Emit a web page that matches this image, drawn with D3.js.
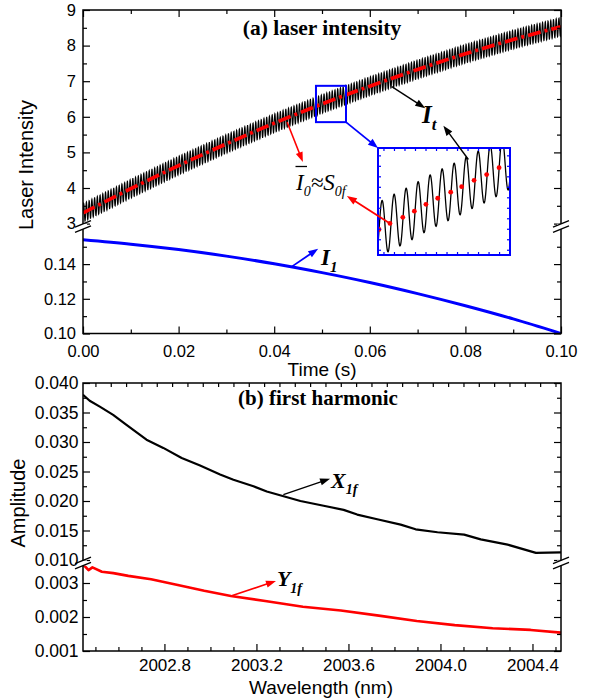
<!DOCTYPE html>
<html>
<head>
<meta charset="utf-8">
<script src="https://cdn.jsdelivr.net/npm/d3@7"></script>
<style>
  body { margin: 0; background: #fff; }
  svg { display: block; }
</style>
</head>
<body>
<svg id="chart" width="593" height="700"></svg>
<script>
// ---------------- data: panel (a) laser intensity ----------------
const timeMajorTicks = [0, 0.02, 0.04, 0.06, 0.08, 0.10];
const timeMinorTicks = [0.01, 0.03, 0.05, 0.07, 0.09];
const intensityMajorTicks = [3, 4, 5, 6, 7, 8, 9];
const intensityMinorTicks = [3.5, 4.5, 5.5, 6.5, 7.5, 8.5];
const i1MajorTicks = [0.10, 0.12, 0.14];
const i1MinorTicks = [0.11, 0.13, 0.15];

// sampled time base (s)
const sampleTime = [0, 0.01, 0.02, 0.03, 0.04, 0.05, 0.06, 0.07, 0.08, 0.09, 0.10];
// mean laser intensity  I0 (= S0f)
const meanIntensity = [3.30, 3.98, 4.63, 5.24, 5.82, 6.36, 6.86, 7.33, 7.77, 8.17, 8.53];
// modulation amplitude I1
const i1Amplitude = [0.1540, 0.1515, 0.1484, 0.1446, 0.1402, 0.1351, 0.1294, 0.1230, 0.1160, 0.1084, 0.1000];
// sinusoidal wavelength modulation of the transmitted intensity It
const modFrequency = 1750;     // Hz
const modDepth = 0.26;         // intensity units

// magnified window
const zoomWindowTime = [0.04874, 0.05502];
const zoomWindowIntensity = [5.85, 6.87];
const zoomSampleTime = [0.04879, 0.04931, 0.04992, 0.05047, 0.05102, 0.05158, 0.05220, 0.05272, 0.05331, 0.05391, 0.05450];
const zoomSampleMean = [6.093, 6.151, 6.209, 6.268, 6.333, 6.391, 6.449, 6.501, 6.562, 6.617, 6.682];

// ---------------- data: panel (b) first harmonic ----------------
const wlMajorTicks = [2002.8, 2003.2, 2003.6, 2004.0, 2004.4];
const wlMinorTicks = [2002.5, 2002.6, 2002.7, 2002.9, 2003.0, 2003.1, 2003.3, 2003.4, 2003.5,
                      2003.7, 2003.8, 2003.9, 2004.1, 2004.2, 2004.3, 2004.5];
const ampMajorTicks = [0.010, 0.015, 0.020, 0.025, 0.030, 0.035, 0.040];
const ampMinorTicks = [0.0125, 0.0175, 0.0225, 0.0275, 0.0325, 0.0375];
const ampLowMajorTicks = [0.001, 0.002, 0.003];
const ampLowMinorTicks = [0.0015, 0.0025];

const x1fWavelength = [2002.446, 2002.475, 2002.519, 2002.577, 2002.635, 2002.722, 2002.795, 2002.875,
  2002.955, 2003.042, 2003.100, 2003.187, 2003.245, 2003.318, 2003.391, 2003.492, 2003.579, 2003.638,
  2003.725, 2003.827, 2003.892, 2003.987, 2004.103, 2004.175, 2004.292, 2004.415, 2004.524];
const x1fAmplitude = [0.0380, 0.0370, 0.0360, 0.0346, 0.0329, 0.0304, 0.0290, 0.0273,
  0.0260, 0.0245, 0.0236, 0.0225, 0.0216, 0.0208, 0.0200, 0.0192, 0.0185, 0.0177,
  0.0169, 0.0160, 0.0152, 0.0147, 0.0143, 0.0135, 0.0126, 0.0112, 0.0113];

const y1fWavelength = [2002.449, 2002.470, 2002.487, 2002.528, 2002.578, 2002.643, 2002.742, 2002.858,
  2002.973, 2003.089, 2003.238, 2003.402, 2003.567, 2003.732, 2003.897, 2004.062, 2004.227, 2004.392, 2004.524];
const y1fAmplitude = [0.00353, 0.00338, 0.00346, 0.00333, 0.00329, 0.00321, 0.00311, 0.00294,
  0.00277, 0.00262, 0.00247, 0.00230, 0.00219, 0.00204, 0.00188, 0.00176, 0.00167, 0.00162, 0.00154];

// ---------------- drawing ----------------
const SANS = "'Liberation Sans', Arial, sans-serif";
const SERIF = "'Liberation Serif', 'Times New Roman', serif";
const svg = d3.select("#chart");
const defs = svg.append("defs");

// panel (a) geometry and scales
const pa = { l: 83, r: 561, t: 10, b: 333.5, brk: 226.5 };
const xTime = d3.scaleLinear().domain([0, 0.1]).range([pa.l, pa.r]);
const yHi = d3.scaleLinear().domain([3, 9]).range([223.6, pa.t]);
const yLo = d3.scaleLinear().domain([0.10, 0.16]).range([pa.b, 229.4]);

// panel (b) geometry and scales
const pb = { l: 83, r: 561, t: 383, b: 651, brk: 563 };
const xWl = d3.scaleLinear().domain([2002.446, 2004.524]).range([pb.l, pb.r]);
const yAmp = d3.scaleLinear().domain([0.010, 0.040]).range([560, pb.t]);
const yAmpLow = d3.scaleLinear().domain([0.001, 0.0035]).range([pb.b, 566]);

function clip(id, x0, y0, x1, y1) {
  defs.append("clipPath").attr("id", id).append("rect")
    .attr("x", x0).attr("y", y0).attr("width", x1 - x0).attr("height", y1 - y0);
  return `url(#${id})`;
}
const clipAHi = clip("cah", pa.l, pa.t, pa.r, pa.brk);
const clipALo = clip("cal", pa.l, pa.brk, pa.r, pa.b);
const clipBHi = clip("cbh", pb.l, pb.t, pb.r, pb.brk);
const clipBLo = clip("cbl", pb.l, pb.brk, pb.r, pb.b);

function arrow(p0, p1, color, width, head = 10, half = 3.6) {
  const dx = p1[0] - p0[0], dy = p1[1] - p0[1];
  const len = Math.hypot(dx, dy), ux = dx / len, uy = dy / len;
  const bx = p1[0] - ux * head, by = p1[1] - uy * head;
  svg.append("line").attr("x1", p0[0]).attr("y1", p0[1]).attr("x2", bx + ux).attr("y2", by + uy)
    .attr("stroke", color).attr("stroke-width", width);
  svg.append("path")
    .attr("d", `M${p1[0]},${p1[1]}L${bx - uy * half},${by + ux * half}L${bx + uy * half},${by - ux * half}Z`)
    .attr("fill", color);
}

function drawAxis(gen, scale, values, size, fmt, transform, fontSize, padding, color = "#000") {
  const a = gen(scale).tickValues(values).tickSize(-size).tickPadding(padding)
    .tickFormat(fmt ? d3.format(fmt) : () => "");
  const g = svg.append("g").attr("transform", transform).call(a);
  g.select(".domain").remove();
  g.selectAll("line").attr("stroke", color).attr("stroke-width", 1.2);
  g.selectAll("text").attr("font-family", SANS).attr("font-size", fontSize).attr("fill", "#000");
  return g;
}

function breakMark(x, y) {
  svg.append("rect").attr("x", x - 4).attr("y", y - 2.6).attr("width", 8).attr("height", 5.2).attr("fill", "#fff");
  [-2.6, 2.6].forEach(o => {
    svg.append("line").attr("x1", x - 8).attr("y1", y + o + 3.3).attr("x2", x + 8).attr("y2", y + o - 3.3)
      .attr("stroke", "#000").attr("stroke-width", 1.3);
  });
}

// ---- panel (a) curves ----
const meanAt = d3.scaleLinear().domain(sampleTime).range(meanIntensity);
const nBand = 3600;
const bandData = d3.range(nBand + 1).map(i => {
  const t = 0.1 * i / nBand;
  return [t, meanAt(t) + modDepth * Math.sin(2 * Math.PI * modFrequency * t)];
});
svg.append("path").attr("clip-path", clipAHi)
  .attr("d", d3.line().x(d => xTime(d[0])).y(d => yHi(d[1]))(bandData))
  .attr("fill", "none").attr("stroke", "#000").attr("stroke-width", 1.1);

svg.append("path").attr("clip-path", clipAHi)
  .attr("d", d3.line().curve(d3.curveMonotoneX).x((d, i) => xTime(sampleTime[i])).y(d => yHi(d))(meanIntensity))
  .attr("fill", "none").attr("stroke", "#ff0000").attr("stroke-width", 3.6)
  .attr("stroke-dasharray", "13,4,3,4");

svg.append("path").attr("clip-path", clipALo)
  .attr("d", d3.line().curve(d3.curveMonotoneX).x((d, i) => xTime(sampleTime[i])).y(d => yLo(d))(i1Amplitude))
  .attr("fill", "none").attr("stroke", "#0000ff").attr("stroke-width", 3);

// magnified window marker
svg.append("rect")
  .attr("x", xTime(zoomWindowTime[0])).attr("y", yHi(zoomWindowIntensity[1]))
  .attr("width", xTime(zoomWindowTime[1]) - xTime(zoomWindowTime[0]))
  .attr("height", yHi(zoomWindowIntensity[0]) - yHi(zoomWindowIntensity[1]))
  .attr("fill", "none").attr("stroke", "#0000ff").attr("stroke-width", 2);

// inset
const ins = { l: 378, r: 510, t: 148, b: 255 };
const xIn = d3.scaleLinear().domain(zoomWindowTime).range([ins.l, ins.r]);
const yIn = d3.scaleLinear().domain(zoomWindowIntensity).range([ins.b, ins.t]);
arrow([xTime(zoomWindowTime[1]), yHi(zoomWindowIntensity[0])], [ins.l, ins.t], "#0000ff", 1.8, 10, 3.8);

svg.append("rect").attr("x", ins.l).attr("y", ins.t).attr("width", ins.r - ins.l).attr("height", ins.b - ins.t)
  .attr("fill", "#fff");
const clipIn = clip("cin", ins.l, ins.t, ins.r, ins.b);
const zoomMeanAt = d3.scaleLinear().domain(zoomSampleTime).range(zoomSampleMean);
const nIn = 500;
const insetWave = d3.range(nIn + 1).map(i => {
  const t = zoomWindowTime[0] + (zoomWindowTime[1] - zoomWindowTime[0]) * i / nIn;
  return [t, zoomMeanAt(t) + modDepth * Math.sin(2 * Math.PI * modFrequency * (t - zoomSampleTime[0]))];
});
svg.append("path").attr("clip-path", clipIn)
  .attr("d", d3.line().x(d => xIn(d[0])).y(d => yIn(d[1]))(insetWave))
  .attr("fill", "none").attr("stroke", "#000").attr("stroke-width", 1.3);
svg.append("g").attr("clip-path", clipIn).selectAll("circle").data(zoomSampleMean).join("circle")
  .attr("cx", (d, i) => xIn(zoomSampleTime[i])).attr("cy", d => yIn(d)).attr("r", 2.4).attr("fill", "#ff0000");

const inXTicks = [0.0490, 0.0495, 0.0500, 0.0505, 0.0510, 0.0515, 0.0520, 0.0525, 0.0530, 0.0535, 0.0540, 0.0545, 0.0550];
const inYTicks = [5.9, 6.0, 6.1, 6.2, 6.3, 6.4, 6.5, 6.6, 6.7, 6.8];
drawAxis(d3.axisBottom, xIn, inXTicks, 3, null, `translate(0,${ins.b})`, 0, 0, "#0000ff");
drawAxis(d3.axisTop, xIn, inXTicks, 3, null, `translate(0,${ins.t})`, 0, 0, "#0000ff");
drawAxis(d3.axisLeft, yIn, inYTicks, 3, null, `translate(${ins.l},0)`, 0, 0, "#0000ff");
drawAxis(d3.axisRight, yIn, inYTicks, 3, null, `translate(${ins.r},0)`, 0, 0, "#0000ff");
svg.append("rect").attr("x", ins.l).attr("y", ins.t).attr("width", ins.r - ins.l).attr("height", ins.b - ins.t)
  .attr("fill", "none").attr("stroke", "#0000ff").attr("stroke-width", 2);

// annotations, panel (a)
const P = (t, v) => [xTime(t), yHi(v)];
const Q = (t, v) => [xTime(t), yLo(v)];
const R = (t, v) => [xIn(t), yIn(v)];
arrow(P(0.0646, 6.85), P(0.0716, 6.24), "#000", 1.4);
arrow(R(0.05304, 6.76), P(0.0754, 5.75), "#000", 1.4);
arrow(P(0.0427, 5.85), P(0.0460, 4.73), "#ff0000", 1.5);
arrow(R(zoomSampleTime[1], zoomSampleMean[1]), P(0.0552, 3.775), "#ff0000", 1.8);
arrow(Q(0.0436, 0.1384), Q(0.0492, 0.1489), "#0000ff", 1.8);

function subLabel(pos, main, sub, size, subSize, weight, color = "#000") {
  const t = svg.append("text").attr("x", pos[0]).attr("y", pos[1])
    .attr("font-family", SERIF).attr("font-style", "italic").attr("font-weight", weight)
    .attr("font-size", size).attr("fill", color);
  t.append("tspan").text(main);
  t.append("tspan").attr("font-size", subSize).attr("dy", size * 0.3).text(sub);
  return t;
}
subLabel(P(0.0709, 5.83), "I", "t", 25, 17, "bold");
subLabel(Q(0.0498, 0.1393), "I", "1", 23, 15, "bold");

// I0 ≈ S0f
const lp = P(0.04456, 3.944);
const lab = svg.append("text").attr("x", lp[0]).attr("y", lp[1])
  .attr("font-family", SERIF).attr("font-style", "italic").attr("font-size", 23).attr("fill", "#000");
lab.append("tspan").text("I");
lab.append("tspan").attr("font-size", 14).attr("dy", 6).text("0");
lab.append("tspan").attr("dy", -6).text("\u2248S");
lab.append("tspan").attr("font-size", 14).attr("dy", 6).text("0f");
svg.append("line").attr("x1", lp[0] - 0.5).attr("x2", lp[0] + 11).attr("y1", lp[1] - 23.5).attr("y2", lp[1] - 23.5)
  .attr("stroke", "#000").attr("stroke-width", 1.3);

// panel (a) frame and axes
svg.append("rect").attr("x", pa.l).attr("y", pa.t).attr("width", pa.r - pa.l).attr("height", pa.b - pa.t)
  .attr("fill", "none").attr("stroke", "#000").attr("stroke-width", 1.5);
drawAxis(d3.axisBottom, xTime, timeMajorTicks, 7, ".2f", `translate(0,${pa.b})`, 16.5, 11.8);
drawAxis(d3.axisBottom, xTime, timeMinorTicks, 4, null, `translate(0,${pa.b})`, 0, 0);
drawAxis(d3.axisTop, xTime, timeMajorTicks, 7, null, `translate(0,${pa.t})`, 0, 0);
drawAxis(d3.axisTop, xTime, timeMinorTicks, 4, null, `translate(0,${pa.t})`, 0, 0);
drawAxis(d3.axisLeft, yHi, intensityMajorTicks, 7, "d", `translate(${pa.l},0)`, 16.5, 7);
drawAxis(d3.axisLeft, yHi, intensityMinorTicks, 4, null, `translate(${pa.l},0)`, 0, 0);
drawAxis(d3.axisLeft, yLo, i1MajorTicks, 7, ".2f", `translate(${pa.l},0)`, 16.5, 7);
drawAxis(d3.axisLeft, yLo, i1MinorTicks, 4, null, `translate(${pa.l},0)`, 0, 0);
drawAxis(d3.axisRight, yHi, intensityMajorTicks, 7, null, `translate(${pa.r},0)`, 0, 0);
drawAxis(d3.axisRight, yHi, intensityMinorTicks, 4, null, `translate(${pa.r},0)`, 0, 0);
drawAxis(d3.axisRight, yLo, i1MajorTicks, 7, null, `translate(${pa.r},0)`, 0, 0);
drawAxis(d3.axisRight, yLo, i1MinorTicks, 4, null, `translate(${pa.r},0)`, 0, 0);
breakMark(pa.l, pa.brk);
breakMark(pa.r, pa.brk);

svg.append("text").attr("x", 322).attr("y", 35).attr("text-anchor", "middle")
  .attr("font-family", SERIF).attr("font-weight", "bold").attr("font-size", 21.5).text("(a) laser intensity");
svg.append("text").attr("transform", "translate(33,165) rotate(-90)").attr("text-anchor", "middle")
  .attr("font-family", SANS).attr("font-size", 20).text("Laser Intensity");
svg.append("text").attr("x", 322).attr("y", 376).attr("text-anchor", "middle")
  .attr("font-family", SANS).attr("font-size", 19).text("Time (s)");

// ---- panel (b) curves ----
svg.append("path").attr("clip-path", clipBHi)
  .attr("d", d3.line().x((d, i) => xWl(x1fWavelength[i])).y(d => yAmp(d))(x1fAmplitude))
  .attr("fill", "none").attr("stroke", "#000").attr("stroke-width", 2.2).attr("stroke-linejoin", "round");
svg.append("path").attr("clip-path", clipBLo)
  .attr("d", d3.line().x((d, i) => xWl(y1fWavelength[i])).y(d => yAmpLow(d))(y1fAmplitude))
  .attr("fill", "none").attr("stroke", "#ff0000").attr("stroke-width", 2.6).attr("stroke-linejoin", "round");

const U = (w, v) => [xWl(w), yAmp(v)];
const L = (w, v) => [xWl(w), yAmpLow(v)];
arrow(U(2003.317, 0.02108), U(2003.520, 0.02379), "#000", 1.4);
arrow(L(2003.089, 0.002618), L(2003.285, 0.003059), "#ff0000", 1.6);
subLabel(U(2003.524, 0.02227), "X", "1f", 22, 14, "bold");
subLabel(L(2003.289, 0.00291), "Y", "1f", 22, 14, "bold");

// panel (b) frame and axes
svg.append("rect").attr("x", pb.l).attr("y", pb.t).attr("width", pb.r - pb.l).attr("height", pb.b - pb.t)
  .attr("fill", "none").attr("stroke", "#000").attr("stroke-width", 1.5);
const wlTopTicks = d3.range(2002.5, 2004.52, 1 / 15);
drawAxis(d3.axisBottom, xWl, wlMajorTicks, 7, ".1f", `translate(0,${pb.b})`, 17, 8.3);
drawAxis(d3.axisBottom, xWl, wlMinorTicks, 4, null, `translate(0,${pb.b})`, 0, 0);
drawAxis(d3.axisTop, xWl, wlTopTicks, 4, null, `translate(0,${pb.t})`, 0, 0);
drawAxis(d3.axisLeft, yAmp, ampMajorTicks, 7, ".3f", `translate(${pb.l},0)`, 17.5, 4.5);
drawAxis(d3.axisLeft, yAmp, ampMinorTicks, 4, null, `translate(${pb.l},0)`, 0, 0);
drawAxis(d3.axisLeft, yAmpLow, ampLowMajorTicks, 7, ".3f", `translate(${pb.l},0)`, 17.5, 4.5);
drawAxis(d3.axisLeft, yAmpLow, ampLowMinorTicks, 4, null, `translate(${pb.l},0)`, 0, 0);
drawAxis(d3.axisRight, yAmp, ampMajorTicks, 7, null, `translate(${pb.r},0)`, 0, 0);
drawAxis(d3.axisRight, yAmp, ampMinorTicks, 4, null, `translate(${pb.r},0)`, 0, 0);
drawAxis(d3.axisRight, yAmpLow, ampLowMajorTicks, 7, null, `translate(${pb.r},0)`, 0, 0);
drawAxis(d3.axisRight, yAmpLow, ampLowMinorTicks, 4, null, `translate(${pb.r},0)`, 0, 0);
breakMark(pb.l, pb.brk);
breakMark(pb.r, pb.brk);

svg.append("text").attr("x", 318).attr("y", 405).attr("text-anchor", "middle")
  .attr("font-family", SERIF).attr("font-weight", "bold").attr("font-size", 21).text("(b) first harmonic");
svg.append("text").attr("transform", "translate(25,503) rotate(-90)").attr("text-anchor", "middle")
  .attr("font-family", SANS).attr("font-size", 20).text("Amplitude");
svg.append("text").attr("x", 321).attr("y", 694).attr("text-anchor", "middle")
  .attr("font-family", SANS).attr("font-size", 19).text("Wavelength (nm)");
</script>
</body>
</html>
